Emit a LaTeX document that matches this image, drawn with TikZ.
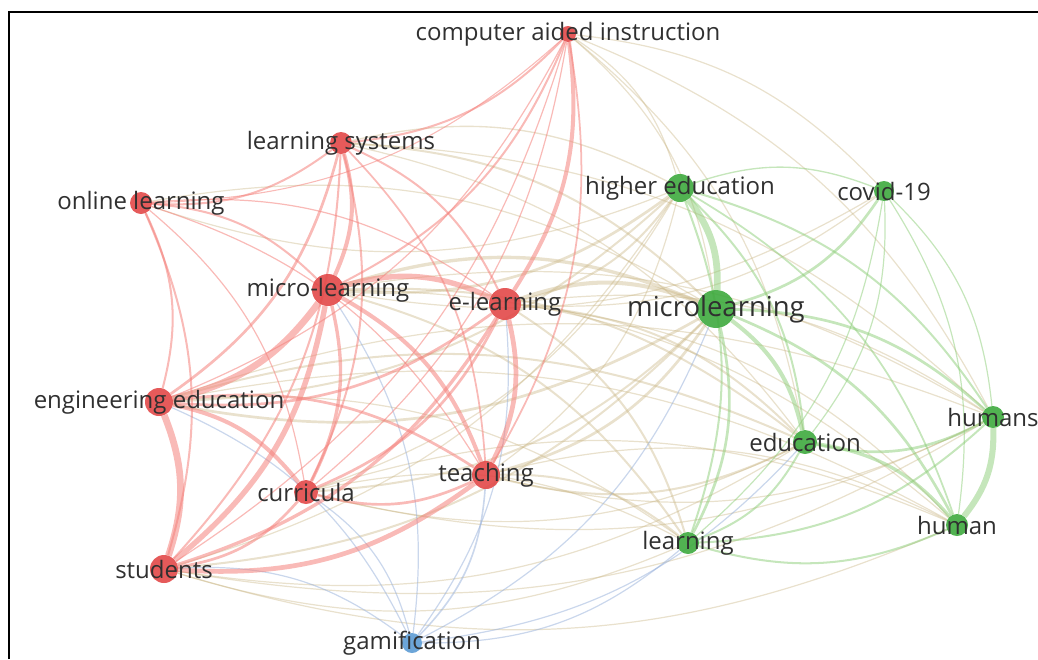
\documentclass[tikz,border=0pt]{standalone}
\usepackage{fontspec}
\setmainfont{Open Sans}
\definecolor{redN}{RGB}{226,72,72}
\definecolor{greenN}{RGB}{62,170,62}
\definecolor{blueN}{RGB}{92,155,212}
\definecolor{redE}{RGB}{244,130,124}
\definecolor{greenE}{RGB}{140,205,120}
\definecolor{mixE}{RGB}{200,180,130}
\definecolor{blueE}{RGB}{150,175,218}
\definecolor{txt}{RGB}{48,48,48}
\newcommand\lnk[5][0.5]{\draw[draw=#4, line width=1.35*#5, draw opacity=#1] (#2) to[bend right=20] (#3);}
\tikzset{
  kw/.style={circle, inner sep=0pt, minimum size=#1, fill opacity=0.9, draw=none},
  rn/.style={kw=#1, fill=redN},
  gn/.style={kw=#1, fill=greenN},
  bn/.style={kw=#1, fill=blueN},
  lbl/.style={text=txt, font=\fontsize{24}{28}\selectfont, inner sep=0pt},
  biglbl/.style={text=txt, font=\fontsize{27.5}{32}\selectfont, inner sep=0pt},
}
\begin{document}
\begin{tikzpicture}[x=1pt,y=-1pt]
\useasboundingbox (0,0) rectangle (1038,659);
% node positions
\coordinate (pcai) at (568,34);
\coordinate (pls) at (341,143);
\coordinate (pol) at (141,203);
\coordinate (phe) at (680,188);
\coordinate (pcov) at (884,191);
\coordinate (pmil) at (328,290);
\coordinate (pel) at (505,304);
\coordinate (pmcl) at (716,309);
\coordinate (pee) at (159,402);
\coordinate (phus) at (993,417);
\coordinate (pedu) at (805,442);
\coordinate (ptea) at (486,475);
\coordinate (pcur) at (306,492);
\coordinate (phum) at (957,525);
\coordinate (plrn) at (688,543);
\coordinate (pstu) at (164,569);
\coordinate (pgam) at (412,643);
% circles (invisible, for edge anchors)
\foreach \n/\s in {cai/16,ls/22,ol/22,he/28,cov/20,mil/32,el/32,mcl/38,ee/28,hus/22,edu/24,tea/28,cur/24,hum/22,lrn/22,stu/28,gam/20}
  \node[circle, inner sep=0pt, minimum size=\s] (\n) at (p\n) {};
% red-green (drawn first, fainter)
\lnk[0.4]{he}{cai}{mixE}{0.9}
\lnk[0.4]{cov}{cai}{mixE}{0.9}
\lnk[0.4]{mcl}{cai}{mixE}{0.9}
\lnk[0.4]{hus}{cai}{mixE}{0.9}
\lnk[0.4]{edu}{cai}{mixE}{0.9}
\lnk[0.4]{he}{ls}{mixE}{1}
\lnk[0.4]{mcl}{ls}{mixE}{1.5}
\lnk[0.4]{hus}{ls}{mixE}{0.9}
\lnk[0.4]{edu}{ls}{mixE}{0.9}
\lnk[0.4]{ol}{he}{mixE}{0.9}
\lnk[0.4]{mcl}{ol}{mixE}{0.9}
\lnk[0.4]{mil}{he}{mixE}{2}
\lnk[0.4]{mil}{cov}{mixE}{0.9}
\lnk[0.4]{mcl}{mil}{mixE}{2.5}
\lnk[0.4]{hus}{mil}{mixE}{0.9}
\lnk[0.4]{edu}{mil}{mixE}{1.5}
\lnk[0.4]{hum}{mil}{mixE}{0.9}
\lnk[0.4]{lrn}{mil}{mixE}{1.5}
\lnk[0.4]{el}{he}{mixE}{1.5}
\lnk[0.4]{el}{cov}{mixE}{0.9}
\lnk[0.4]{mcl}{el}{mixE}{3}
\lnk[0.4]{hus}{el}{mixE}{0.9}
\lnk[0.4]{edu}{el}{mixE}{1.5}
\lnk[0.4]{hum}{el}{mixE}{0.9}
\lnk[0.4]{lrn}{el}{mixE}{1.5}
\lnk[0.4]{ee}{he}{mixE}{1.5}
\lnk[0.4]{ee}{mcl}{mixE}{2}
\lnk[0.4]{hus}{ee}{mixE}{0.9}
\lnk[0.4]{edu}{ee}{mixE}{1.5}
\lnk[0.4]{hum}{ee}{mixE}{0.9}
\lnk[0.4]{lrn}{ee}{mixE}{0.9}
\lnk[0.4]{tea}{he}{mixE}{0.9}
\lnk[0.4]{tea}{mcl}{mixE}{2}
\lnk[0.4]{tea}{hus}{mixE}{0.9}
\lnk[0.4]{tea}{edu}{mixE}{1.5}
\lnk[0.4]{hum}{tea}{mixE}{0.9}
\lnk[0.4]{lrn}{tea}{mixE}{1.5}
\lnk[0.4]{cur}{he}{mixE}{0.9}
\lnk[0.4]{cur}{mcl}{mixE}{1.5}
\lnk[0.4]{cur}{edu}{mixE}{0.9}
\lnk[0.4]{cur}{hus}{mixE}{0.9}
\lnk[0.4]{hum}{cur}{mixE}{0.9}
\lnk[0.4]{lrn}{cur}{mixE}{0.9}
\lnk[0.4]{stu}{he}{mixE}{0.9}
\lnk[0.4]{stu}{mcl}{mixE}{1.5}
\lnk[0.4]{stu}{edu}{mixE}{0.9}
\lnk[0.4]{stu}{hum}{mixE}{0.9}
\lnk[0.4]{stu}{lrn}{mixE}{0.9}
\lnk[0.4]{stu}{hus}{mixE}{0.9}
% blue
\lnk{gam}{stu}{blueE}{0.9}
\lnk{gam}{cur}{blueE}{0.9}
\lnk{gam}{mil}{blueE}{0.9}
\lnk{gam}{tea}{blueE}{1.2}
\lnk{gam}{el}{blueE}{0.9}
\lnk{gam}{lrn}{blueE}{0.9}
\lnk{gam}{ee}{blueE}{0.9}
\lnk{gam}{mcl}{blueE}{0.9}
\lnk{gam}{edu}{blueE}{0.9}
% red-red
\lnk[0.55]{ls}{cai}{redE}{1.5}
\lnk[0.55]{ol}{cai}{redE}{0.8}
\lnk[0.55]{ol}{ls}{redE}{1.5}
\lnk[0.55]{mil}{cai}{redE}{1.5}
\lnk[0.55]{mil}{ls}{redE}{3}
\lnk[0.55]{mil}{ol}{redE}{1.5}
\lnk[0.55]{el}{cai}{redE}{3}
\lnk[0.55]{el}{ls}{redE}{1.5}
\lnk[0.55]{el}{ol}{redE}{0.9}
\lnk[0.55]{el}{mil}{redE}{4}
\lnk[0.55]{ee}{cai}{redE}{0.9}
\lnk[0.55]{ee}{ls}{redE}{2}
\lnk[0.55]{ee}{ol}{redE}{1.5}
\lnk[0.55]{ee}{mil}{redE}{5}
\lnk[0.55]{ee}{el}{redE}{2}
\lnk[0.55]{tea}{cai}{redE}{1.3}
\lnk[0.55]{tea}{ls}{redE}{1.3}
\lnk[0.55]{tea}{ol}{redE}{0.9}
\lnk[0.55]{tea}{mil}{redE}{3}
\lnk[0.55]{tea}{el}{redE}{3.5}
\lnk[0.55]{tea}{ee}{redE}{2}
\lnk[0.55]{cur}{cai}{redE}{0.9}
\lnk[0.55]{cur}{ls}{redE}{1.5}
\lnk[0.55]{cur}{ol}{redE}{0.9}
\lnk[0.55]{cur}{mil}{redE}{2.5}
\lnk[0.55]{cur}{el}{redE}{2}
\lnk[0.55]{cur}{ee}{redE}{3}
\lnk[0.55]{cur}{tea}{redE}{2}
\lnk[0.55]{stu}{cai}{redE}{0.9}
\lnk[0.55]{stu}{ls}{redE}{1.5}
\lnk[0.55]{stu}{ol}{redE}{1.5}
\lnk[0.55]{stu}{mil}{redE}{4}
\lnk[0.55]{stu}{el}{redE}{2.5}
\lnk[0.55]{stu}{ee}{redE}{5}
\lnk[0.55]{stu}{tea}{redE}{3.5}
\lnk[0.55]{stu}{cur}{redE}{2}
% green-green
\lnk{cov}{he}{greenE}{1}
\lnk{mcl}{he}{greenE}{5}
\lnk{mcl}{cov}{greenE}{2}
\lnk{hus}{he}{greenE}{1.5}
\lnk{hus}{cov}{greenE}{0.9}
\lnk{hus}{mcl}{greenE}{2}
\lnk{edu}{he}{greenE}{1.5}
\lnk{edu}{cov}{greenE}{0.9}
\lnk{edu}{mcl}{greenE}{3}
\lnk{edu}{hus}{greenE}{2}
\lnk{hum}{he}{greenE}{1.3}
\lnk{hum}{cov}{greenE}{0.9}
\lnk{hum}{mcl}{greenE}{2}
\lnk{hum}{hus}{greenE}{4.5}
\lnk{hum}{edu}{greenE}{2.5}
\lnk{lrn}{he}{greenE}{1.5}
\lnk{lrn}{cov}{greenE}{0.9}
\lnk{lrn}{mcl}{greenE}{2}
\lnk{lrn}{hus}{greenE}{1.5}
\lnk{lrn}{edu}{greenE}{1.5}
\lnk{lrn}{hum}{greenE}{1.5}
% visible circles
\foreach \n/\s in {cai/16,ls/22,ol/22,mil/32,el/32,ee/28,tea/28,cur/24,stu/28}
  \node[rn=\s] (c\n) at (p\n) {};
\foreach \n/\s in {he/28,cov/20,mcl/38,hus/22,edu/24,hum/22,lrn/22}
  \node[gn=\s] (c\n) at (p\n) {};
\node[bn=20] (cgam) at (pgam) {};
% labels
\node[lbl] (lcai) at (pcai) {computer aided instruction};
\node[lbl] (lls) at (pls) {learning systems};
\node[lbl] (lol) at (pol) {online learning};
\node[lbl] (lhe) at (phe) {higher education};
\node[lbl] (lcov) at (pcov) {covid-19};
\node[lbl] (lmil) at (pmil) {micro-learning};
\node[lbl] (lel) at (pel) {e-learning};
\node[biglbl] (lmcl) at (pmcl) {microlearning};
\node[lbl] (lee) at (pee) {engineering education};
\node[lbl] (lhus) at (phus) {humans};
\node[lbl] (ledu) at (pedu) {education};
\node[lbl] (ltea) at (ptea) {teaching};
\node[lbl] (lcur) at (pcur) {curricula};
\node[lbl] (lhum) at (phum) {human};
\node[lbl] (llrn) at (plrn) {learning};
\node[lbl] (lstu) at (pstu) {students};
\node[lbl] (lgam) at (pgam) {gamification};
% frame
\draw[line width=2.5pt] (9,659) -- (9,12) -- (1038,12);
\end{tikzpicture}
\end{document}
